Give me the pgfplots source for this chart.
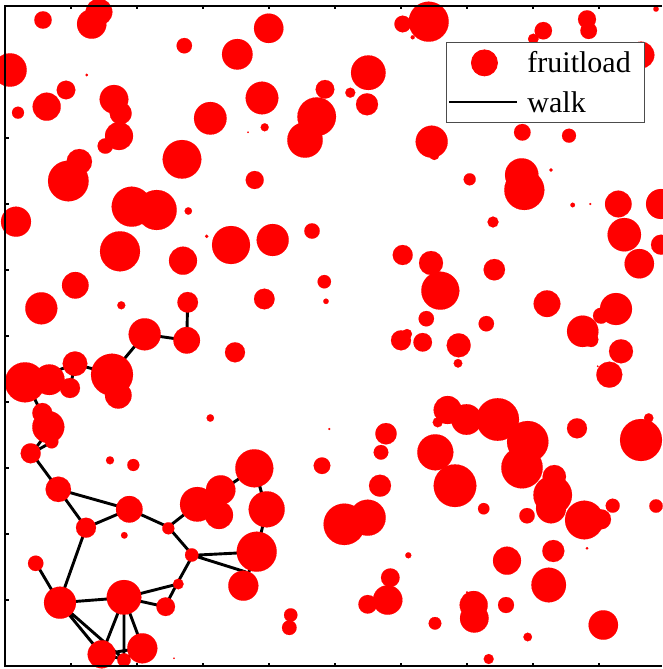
\documentclass[border=0pt]{standalone}
\usepackage{fontspec}
\setmainfont{Liberation Serif}
\usepackage{pgfplots}
\usepackage{pgfplotstable}
\pgfplotsset{compat=1.18}

\pgfplotstableread{
x y r
43 20 8.7
91.7 24 14.7
99 12 13.3
10 70 16.7
86.7 75 1.3
66 90 9.3
46.7 106.7 14
18 112.7 6
114 99.3 14.3
120.7 113.3 11
119 136 14
105.3 146 7.7
184.3 45.7 7.7
237.3 54.3 15.3
268.7 28.3 14.7
262 98 16.3
210.3 118.3 16.3
248 132.3 0.8
264.7 127.3 4
325 89.3 9.3
316.7 116.7 19.3
305 140 17.7
182 159.3 19.3
254.7 180 9
79.3 161.7 12.7
68.3 181 20.3
131.7 206.7 20
156.7 210 20
188.3 211 3.7
16 221.7 15
428.7 21.7 20
402.7 24 8.3
412.7 37.3 2
587 19.3 9
588.7 30.7 8.3
543.3 30.7 8.7
533.3 39 5.3
656 9 2.7
641 55 13.3
664 95 6
368.3 72.7 17.3
350.3 92.7 5
367 104.3 11
431.7 141.7 16
434.3 155 5
522.3 132.3 8.3
569 135.7 7
521.7 175 16.7
524.3 190 20
551 170 1.7
469.7 179.3 6
572.7 205 2.3
590.3 204 1
618.3 204 13.3
661 204 15
493 222 5.5
120 251.3 20
75.3 285.3 13.3
41.3 308.3 16
121.3 305.3 4
183 260.7 14
231 245 19
272.7 240 16
206.7 236.3 1.7
312 231 7.7
324.3 281.7 6.7
326 301.3 2.7
264.3 299 10.3
187.7 302.3 10.3
144.7 334.3 16
186.7 340.3 13.3
235 352.3 10
112 374.7 21
118.3 395.3 13.3
75 363.7 12.3
70 388 10
49.3 379.7 15.3
25 382.3 20
42.3 413 10
48.3 427 16
51.7 441.7 6.7
30.7 453.3 10
210.3 418 3.7
329.3 429 1
402.7 255 10
431 263 12
440.3 290.7 19
494.3 269.7 10.7
426.3 318.7 7.7
486.3 323.7 7.7
401 340.3 10
407 334 5
422.7 342.3 9.3
458.7 345.3 12
458 363.3 4.3
547 303.7 13.3
616 309 16
601 315.7 8
582.7 331.3 15.7
591 339.7 7.3
621 351.3 12
609.3 374.7 13
624.3 234.7 16.7
639.3 263.7 14.7
661 244.7 10
597.7 366.3 0.8
447.7 410 14
437.7 422.3 5
466.5 419.5 15.3
497.7 419.5 21.3
527.7 441.7 20.7
522 467.7 20.7
554.3 476.7 11.7
552.7 495 19.3
551 508.3 15
584.3 520 19.3
601 519.3 10
612.7 505.7 7
577 428.3 10
641 440 21
648.7 418 4.7
656 506 6.7
386 433.7 10.7
381 452.3 7.3
380 485.7 11
435.3 452.3 18
455 485.7 21.3
483.7 508.7 5.7
527 515.7 7.7
344.3 524.3 20.7
367.7 517.7 18
587 548.3 1.3
408.3 555.3 3
507 560.7 14
553.3 551 11
548.7 585 17.3
390.3 577.7 9.3
387.7 600 14.7
367.7 604.3 9.3
467 592.3 1
473.7 605 14
474.3 618.3 14.3
506 605 8
435 623.3 6.3
527.7 637 4.3
603.3 625 14.7
488.7 659 5
110 460.3 4
133.3 465 6
58.3 489.3 12.7
129.3 509.3 13.3
86 527.7 10
124.3 535.3 3.3
168.3 528.3 6
197.3 504.3 17.3
220.7 490 14.7
219 515 14
254.3 468.3 19
266.7 509.3 18
256.7 551.7 20
243.3 585.7 15
191.7 555 6.7
322 465.7 8.3
35.7 563.3 7.7
60 602.7 16
124 597.3 17.3
178.3 584 5.3
165.7 606.7 9.3
101.7 654.3 14
124 660 6.7
142.3 648.3 15
174 658.3 0.8
290.7 615 6.7
289.3 627.7 7.3
}\fruit

\begin{document}
\begin{tikzpicture}
\begin{axis}[
  scale only axis, width=657pt, height=660pt,
  xmin=5, xmax=662, ymin=6, ymax=666, y dir=reverse,
  axis line style={draw=none},
  xtick={71,137,203,269,335,401,467,533,599},
  ytick={72,138,204,270,336,402,468,534,600},
  xticklabels={}, yticklabels={},
  xtick pos=both, ytick pos=left,
  tick align=inside, major tick length=3.5pt,
  tick style={black, line width=1.3pt},
  clip mode=global,
  unbounded coords=jump,
  legend style={at={(0.6712,0.9455)}, anchor=north west,
    draw=black!70, line width=0.9pt, fill=white,
    inner xsep=2pt, inner ysep=7pt, row sep=13pt,
    /tikz/every odd column/.append style={column sep=7pt},
    font=\fontsize{30}{30}\selectfont},
  legend cell align=left,
]
\addplot[scatter, only marks, mark=*, forget plot,
  scatter/use mapped color={draw=red, fill=red},
  mark options={line width=0.1pt},
  visualization depends on={\thisrow{r} \as \rad},
  scatter/@pre marker code/.append style={/tikz/mark size=\rad}]
  table[x=x, y=y] {\fruit};
\addplot[black, line width=2.9pt, line join=round, forget plot] coordinates {
(187.7,301.5) (186.7,340.3) (144.7,334.3) (111.7,374) (118.3,395) (nan,nan)
(111.7,374) (75,364) (70,388.3) (51.7,376) (26.7,381.7) (75,364) (nan,nan)
(26.7,381.7) (49.3,430) (52.3,441.7) (31.7,453.3) (49.3,430) (nan,nan)
(31.7,453.3) (58.3,489.3) (86,527.7) (129.3,509.3) (58.3,489.3) (nan,nan)
(129.3,509.3) (168.3,527) (197.3,504.3) (220.7,491) (254,468.7) (266.7,508.7) (256.7,552) (243.3,586) (nan,nan)
(197.3,504.3) (219.3,514.3) (220.7,491) (nan,nan)
(256.3,470.5) (265.2,509.5) (nan,nan)
(168.3,527) (192.7,555.3) (256.7,552) (nan,nan)
(192.7,555.3) (246,572) (nan,nan)
(192.7,555.3) (176.7,584.3) (165,606.7) (124,597.7) (101.7,654.3) (124,659.3) (124,597.7) (142.7,647.7) (101.7,654.3) (59.3,602.7) (124,659.3) (142.7,647.7) (nan,nan)
(176.7,584.3) (124,597.7) (59.3,602.7) (86,527.7) (nan,nan)
(59.3,602.7) (35.7,562.7)
};
\addlegendimage{legend image code/.code={\path[draw=none, fill=none] (0pt,0pt) -- (68pt,0pt); \fill[red] (35pt,0pt) circle (13pt);}}
\addlegendentry{fruitload\hspace*{10pt}}
\addlegendimage{legend image code/.code={\draw[black, line width=2pt] (0pt,0pt) -- (68pt,0pt);}}
\addlegendentry{walk}
\end{axis}
\draw[line width=2pt] (current axis.north east) -- (current axis.north west) -- (current axis.south west) -- (current axis.south east);
\pgfresetboundingbox
\path[use as bounding box] ([shift={(-5pt,-3pt)}]current axis.south west) rectangle ([shift={(0pt,6pt)}]current axis.north east);
\end{tikzpicture}
\end{document}
